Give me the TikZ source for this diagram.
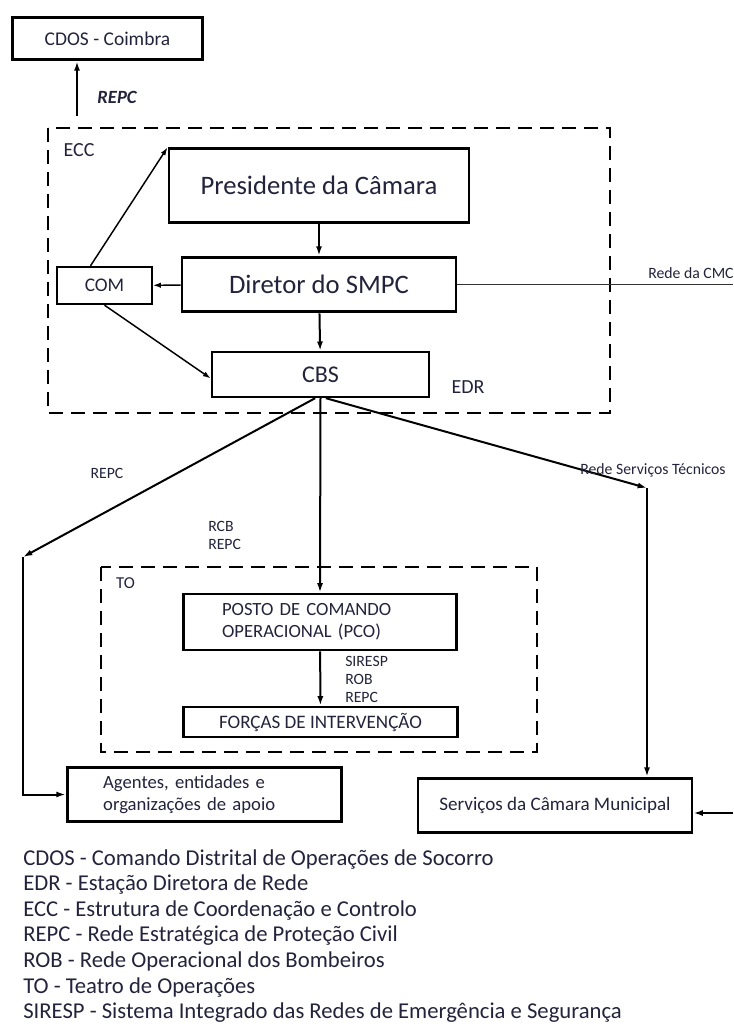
\documentclass[tikz,border=0pt]{standalone}
\usepackage{fontspec}
\setmainfont{Carlito}
\usetikzlibrary{arrows.meta}
\definecolor{txt}{RGB}{35,35,60}

\begin{document}
\begin{tikzpicture}
  [x=0.75pt,y=-0.75pt,
   every node/.style={text=txt,inner sep=0pt},
   box/.style={draw,line width=2.2pt,align=center},
   sbox/.style={draw,line width=1.5pt,align=center},
   frame/.style={line width=2.2pt,dash pattern=on 10.5pt off 6pt},
   arr/.style={-{Latex[length=7pt,width=4.5pt]},line width=1.5pt},
   sarr/.style={-{Latex[length=6pt,width=4pt]},line width=1.1pt},
   lbl/.style={font=\fontsize{11.8}{13.5}\selectfont,align=left}]
  \clip (0,0) rectangle (733,1026);

  \draw[frame] (48,128) rectangle (610,413);
  \draw[frame] (101,567) rectangle (537,752);
  \node[font=\fontsize{15}{17}\selectfont] (ecc) at (79,150) {ECC};
  \node[font=\fontsize{15}{17}\selectfont] (edr) at (468,387) {EDR};
  \node[font=\fontsize{12.5}{15}\selectfont] (to) at (125.5,583) {TO};

  \node[box,minimum width=143pt,minimum height=32pt,font=\fontsize{14.6}{16}\selectfont] (cdos) at (107.5,38.5) {CDOS - Coimbra};
  \node[box,minimum width=225pt,minimum height=55pt,font=\fontsize{20}{23}\selectfont] (pres) at (319,185.5) {Presidente da Câmara};
  \node[box,minimum width=205.5pt,minimum height=41pt,font=\fontsize{20}{23}\selectfont] (dir) at (319,284.5) {Diretor do SMPC};
  \node[sbox,minimum width=71pt,minimum height=28pt,font=\fontsize{14.5}{16}\selectfont] (com) at (104.5,285.5) {COM};
  \node[sbox,minimum width=163pt,minimum height=34pt,font=\fontsize{18}{21}\selectfont] (cbs) at (320.5,374.5) {CBS};
  \node[box,inner xsep=29pt,text width=147pt,align=left,minimum height=42pt,font=\fontsize{14}{16.5}\selectfont] (pco) at (320,622) {POSTO DE COMANDO\\OPERACIONAL (PCO)};
  \node[box,minimum width=205pt,minimum height=22.5pt,font=\fontsize{14.3}{16}\selectfont] (forc) at (320.5,722) {FORÇAS DE INTERVENÇÃO};
  \node[box,inner xsep=27pt,text width=152pt,align=left,minimum height=41pt,font=\fontsize{14}{16.5}\selectfont] (agt) at (204.5,794.5) {Agentes, entidades e\\organizações de apoio};
  \node[box,minimum width=205.5pt,minimum height=41pt,font=\fontsize{14.3}{16}\selectfont] (serv) at (555,805.5) {Serviços da Câmara Municipal};

  \coordinate (ecctop) at (77,116);
  \coordinate (cmc) at (733,284.5);
  \coordinate (lcorner) at (23,557);
  \coordinate (rcorner) at (647,488);
  \coordinate (rend) at (733,813);

  \draw[arr] (ecctop) -- (ecctop |- cdos.south);
  \node[font=\bfseries\itshape\fontsize{14}{16}\selectfont] (repc0) at (117,97) {REPC};

  \draw[arr] (pres) -- (dir);
  \draw[sarr] (dir) -- (com);
  \draw[sarr] ([xshift=-10.5pt]com.north) -- (pres.north west);
  \draw[sarr] (com.south) -- ([yshift=-3pt]cbs.west);
  \draw[arr] (dir) -- (cbs);
  \draw[line width=1.2pt,black!80] (dir.east) -- (cmc);
  \node[lbl,anchor=west] (lcmc) at (648,273) {Rede da CMC};

  \draw[arr] ([xshift=-4pt]cbs.south) -- (lcorner);
  \draw[arr] (lcorner) -- (lcorner |- agt.west) -- (agt.west);
  \node[lbl] (lrepc1) at (107,473) {REPC};

  \draw[arr] (cbs.south) -- (pco.north);
  \node[lbl,anchor=west] (lrcb) at (208,535) {RCB\\REPC};

  \draw[arr] (pco) -- (forc);
  \node[lbl,anchor=west] (lsir) at (345,679) {SIRESP\\ROB\\REPC};

  \draw[arr] ([xshift=4pt]cbs.south) -- (rcorner);
  \draw[arr] (rcorner) -- (rcorner |- serv.north);
  \node[lbl] (lrst) at (653,470) {Rede Serviços Técnicos};

  \draw[arr] (rend) -- (rend -| serv.east);

  \node[anchor=north west,align=left,font=\fontsize{17}{19.2}\selectfont] (legend) at (23,849)
    {CDOS - Comando Distrital de Operações de Socorro\\
     EDR - Estação Diretora de Rede\\
     ECC - Estrutura de Coordenação e Controlo\\
     REPC - Rede Estratégica de Proteção Civil\\
     ROB - Rede Operacional dos Bombeiros\\
     TO - Teatro de Operações\\
     SIRESP - Sistema Integrado das Redes de Emergência e Segurança};
\end{tikzpicture}
\end{document}
